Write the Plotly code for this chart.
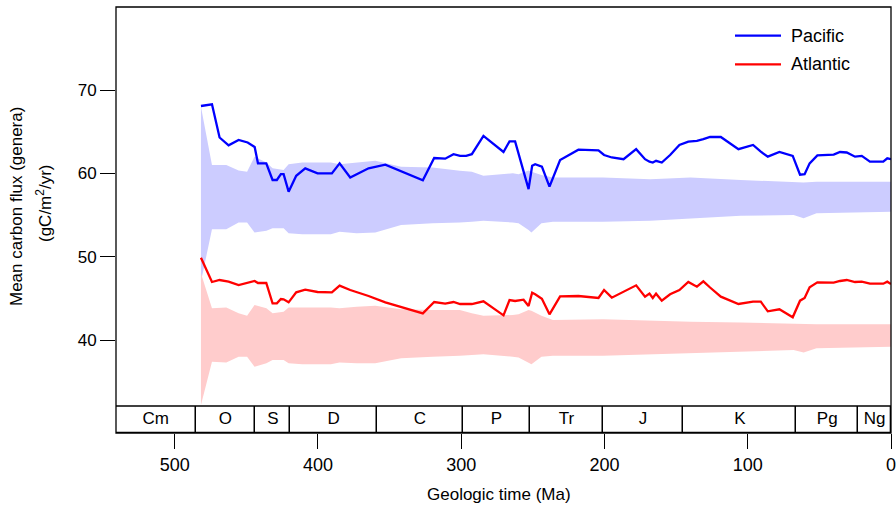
import plotly.graph_objects as go

# ---- data (Ma, values) ----
t = [481.7, 474, 468.7, 462.4, 455.4, 449.1, 444.2, 441.9, 436.1, 431.7, 428.7, 425.9, 424, 420.5,
     415.2, 408.9, 400.3, 390.3, 384.9, 377.5, 364.7, 353, 326.8, 318.9, 311.2, 305.4, 300.8, 296.6,
     292.6, 284.5, 270.5, 266.3, 262.4, 256.5, 253, 250.5, 248.4, 243.7, 238.4, 231, 218.2, 204.2,
     200.3, 194.9, 186.7, 177.9, 171.7, 168.6, 166.3, 164, 160, 154.2, 147.7, 141.5, 135.5, 131,
     126.3, 118.8, 106.5, 96.3, 90.9, 86, 77.9, 68.6, 63.5, 60.3, 56.8, 51.4, 40, 35.6, 30.9, 25.1,
     20.4, 14.7, 5.4, 2.6, 0]

pacific = [68.08, 68.28, 64.3, 63.36, 64.0, 63.7, 63.16, 61.2, 61.2, 59.2, 59.2, 59.9, 59.9, 57.8,
           59.7, 60.6, 60.0, 60.0, 61.2, 59.5, 60.6, 61.04, 59.16, 61.84, 61.76, 62.3, 62.1, 62.1,
           62.3, 64.5, 62.56, 63.84, 63.84, 60.1, 58.1, 60.9, 61.1, 60.8, 58.4, 61.6, 62.84, 62.76,
           62.2, 61.9, 61.7, 62.9, 61.7, 61.4, 61.3, 61.5, 61.3, 62.2, 63.4, 63.8, 63.9, 64.1,
           64.36, 64.36, 62.9, 63.4, 62.6, 62.0, 62.56, 62.1, 59.84, 59.9, 61.2, 62.16, 62.24, 62.56,
           62.5, 62.0, 62.1, 61.4, 61.4, 61.8, 61.7]

atlantic = [49.88, 46.96, 47.2, 47.0, 46.6, 46.84, 47.08, 46.84, 46.84, 44.4, 44.4, 44.92, 44.88, 44.52,
            45.72, 46.04, 45.76, 45.72, 46.52, 46.0, 45.28, 44.52, 43.2, 44.56, 44.36, 44.56, 44.32, 44.32,
            44.32, 44.64, 42.96, 44.8, 44.68, 44.84, 44.08, 45.68, 45.5, 44.96, 43.08, 45.24, 45.28, 45.04,
            46.0, 45.08, 45.84, 46.56, 45.2, 45.56, 45.04, 45.56, 44.72, 45.48, 46.0, 46.96, 46.4, 47.04,
            46.3, 45.2, 44.32, 44.6, 44.6, 43.44, 43.68, 42.72, 44.72, 45.04, 46.32, 46.92, 46.88, 47.08,
            47.2, 46.96, 47.0, 46.76, 46.76, 47.0, 46.72]

# null-model envelopes
tb = [481.7, 474, 464, 455.4, 449.5, 444.3, 436, 431.7, 424, 420.5, 411, 391, 385, 373, 360, 342,
      320, 301, 292.6, 284.5, 264, 260, 253, 251, 244, 236, 201, 168, 140, 105, 68, 61, 52, 0]
pac_hi = [68.0, 61.0, 61.0, 60.35, 60.2, 62.0, 61.3, 60.6, 60.4, 61.1, 61.3, 61.3, 61.1, 61.3, 61.5, 60.8,
          60.7, 60.3, 60.2, 59.7, 60.0, 59.9, 60.35, 60.2, 59.8, 59.5, 59.5, 59.3, 59.5, 59.2, 59.0, 58.9, 59.0, 59.0]
pac_lo = [47.0, 53.3, 53.3, 54.1, 54.1, 52.9, 53.1, 53.4, 53.4, 52.8, 52.7, 52.7, 53.0, 52.8, 52.9, 53.8,
          54.0, 54.1, 54.2, 54.3, 54.1, 54.0, 53.2, 52.9, 54.0, 54.2, 54.2, 54.3, 54.6, 54.9, 55.0, 54.6, 55.2, 55.4]
atl_hi = [48.0, 43.8, 43.9, 43.2, 42.9, 44.2, 43.8, 43.2, 43.4, 43.9, 43.9, 43.9, 43.8, 44.0, 44.1, 43.7,
          43.6, 43.6, 43.2, 42.9, 43.0, 43.1, 43.6, 43.5, 42.9, 42.4, 42.5, 42.3, 42.2, 42.1, 41.9, 41.9, 41.9, 41.9]
atl_lo = [32.2, 37.4, 37.3, 38.0, 38.0, 36.8, 37.2, 37.6, 37.6, 37.2, 37.1, 37.1, 37.3, 37.2, 37.2, 37.8,
          38.0, 38.1, 38.2, 38.3, 38.0, 37.9, 37.3, 37.1, 38.0, 38.1, 38.1, 38.3, 38.4, 38.6, 38.8, 38.5, 39.0, 39.2]

# geologic periods
periods = ["Cm", "O", "S", "D", "C", "P", "Tr", "J", "K", "Pg", "Ng"]
p_start = [541, 485.4, 443.8, 419.2, 358.9, 298.9, 251.9, 201.3, 145, 66, 23]
p_end = [485.4, 443.8, 419.2, 358.9, 298.9, 251.9, 201.3, 145, 66, 23, 0]

x_ticks = [0, 100, 200, 300, 400, 500]
y_ticks = [40, 50, 60, 70]

FONT = "Liberation Sans, Arial, Helvetica, sans-serif"
BLUE = "#0000FF"
RED = "#FF0000"

fig = go.Figure()

fig.add_trace(go.Scatter(x=tb + tb[::-1], y=pac_hi + pac_lo[::-1], fill="toself",
                         fillcolor="#CCCCFF", line=dict(width=0), mode="lines",
                         hoverinfo="skip", showlegend=False, xaxis="x", yaxis="y"))
fig.add_trace(go.Scatter(x=tb + tb[::-1], y=atl_hi + atl_lo[::-1], fill="toself",
                         fillcolor="#FFCCCC", line=dict(width=0), mode="lines",
                         hoverinfo="skip", showlegend=False, xaxis="x", yaxis="y"))
fig.add_trace(go.Scatter(x=t, y=pacific, mode="lines", name="Pacific",
                         line=dict(color=BLUE, width=2.3), showlegend=False, xaxis="x", yaxis="y"))
fig.add_trace(go.Scatter(x=t, y=atlantic, mode="lines", name="Atlantic",
                         line=dict(color=RED, width=2.3), showlegend=False, xaxis="x", yaxis="y"))

# timescale bar
mids = [(a + b) / 2 for a, b in zip(p_start, p_end)]
widths = [a - b for a, b in zip(p_start, p_end)]
fig.add_trace(go.Bar(x=mids, y=[1] * len(periods), base=0, width=widths,
                     marker=dict(color="white", line=dict(color="black", width=1.3)),
                     hoverinfo="skip", showlegend=False, xaxis="x", yaxis="y2"))
fig.add_trace(go.Scatter(x=mids, y=[0.5] * len(periods), text=periods, mode="text",
                         textfont=dict(family=FONT, size=17, color="black"),
                         hoverinfo="skip", showlegend=False, xaxis="x", yaxis="y2"))

W, H = 896, 506
L, R, T, B = 116, 5, 7, 73
ph = H - T - B
pw = W - L - R
split = (433 - 406) / ph

def px(xp):
    return (xp - L) / pw

def py(yp):
    return (H - B - yp) / ph

shapes = [
    dict(type="rect", xref="paper", yref="paper", x0=0, x1=1, y0=0, y1=1,
         line=dict(color="black", width=1.3)),
    dict(type="line", xref="paper", yref="paper", x0=0, x1=1, y0=split, y1=split,
         line=dict(color="black", width=1.3)),
    dict(type="line", xref="paper", yref="paper", x0=px(735), x1=px(781), y0=py(35.7), y1=py(35.7),
         line=dict(color=BLUE, width=2.3)),
    dict(type="line", xref="paper", yref="paper", x0=px(735), x1=px(781), y0=py(64.3), y1=py(64.3),
         line=dict(color=RED, width=2.3)),
]

annotations = [
    dict(text="Pacific", xref="paper", yref="paper", x=px(789), y=py(35.7), xanchor="left",
         yanchor="middle", showarrow=False, font=dict(family=FONT, size=18, color="black")),
    dict(text="Atlantic", xref="paper", yref="paper", x=px(789), y=py(64.3), xanchor="left",
         yanchor="middle", showarrow=False, font=dict(family=FONT, size=18, color="black")),
    dict(text="Mean carbon flux (genera)", xref="paper", yref="paper", x=px(16), y=py(207),
         xanchor="center", yanchor="middle", textangle=-90, showarrow=False,
         font=dict(family=FONT, size=17, color="black")),
    dict(text="(gC/m<sup>2</sup>/yr)", xref="paper", yref="paper", x=px(44), y=py(204),
         xanchor="center", yanchor="middle", textangle=-90, showarrow=False,
         font=dict(family=FONT, size=17, color="black")),
    dict(text="Geologic time (Ma)", xref="paper", yref="paper", x=px(499), y=py(494),
         xanchor="center", yanchor="middle", showarrow=False,
         font=dict(family=FONT, size=17, color="black")),
]

fig.update_layout(
    width=W, height=H,
    margin=dict(l=L, r=R, t=T, b=B, pad=0),
    paper_bgcolor="white", plot_bgcolor="white",
    font=dict(family=FONT, size=17, color="black"),
    showlegend=False,
    bargap=0,
    xaxis=dict(range=[541, 0], domain=[0, 1], anchor="y2", tickvals=x_ticks,
               ticks="outside", ticklen=15, tickwidth=1.3, tickcolor="black",
               showgrid=False, zeroline=False, showline=False, automargin=False,
               ticklabeloverflow="allow",
               tickfont=dict(family=FONT, size=18, color="black")),
    yaxis=dict(range=[32.08, 79.96], domain=[split, 1], anchor="x", tickvals=y_ticks,
               ticks="outside", ticklen=15, tickwidth=1.3, tickcolor="black",
               showgrid=False, zeroline=False, showline=False,
               tickfont=dict(family=FONT, size=17, color="black")),
    yaxis2=dict(range=[0, 1], domain=[0, split], anchor="x", showticklabels=False,
                ticks="", showgrid=False, zeroline=False, showline=False),
    shapes=shapes,
    annotations=annotations,
)

fig.write_html("out.html")
